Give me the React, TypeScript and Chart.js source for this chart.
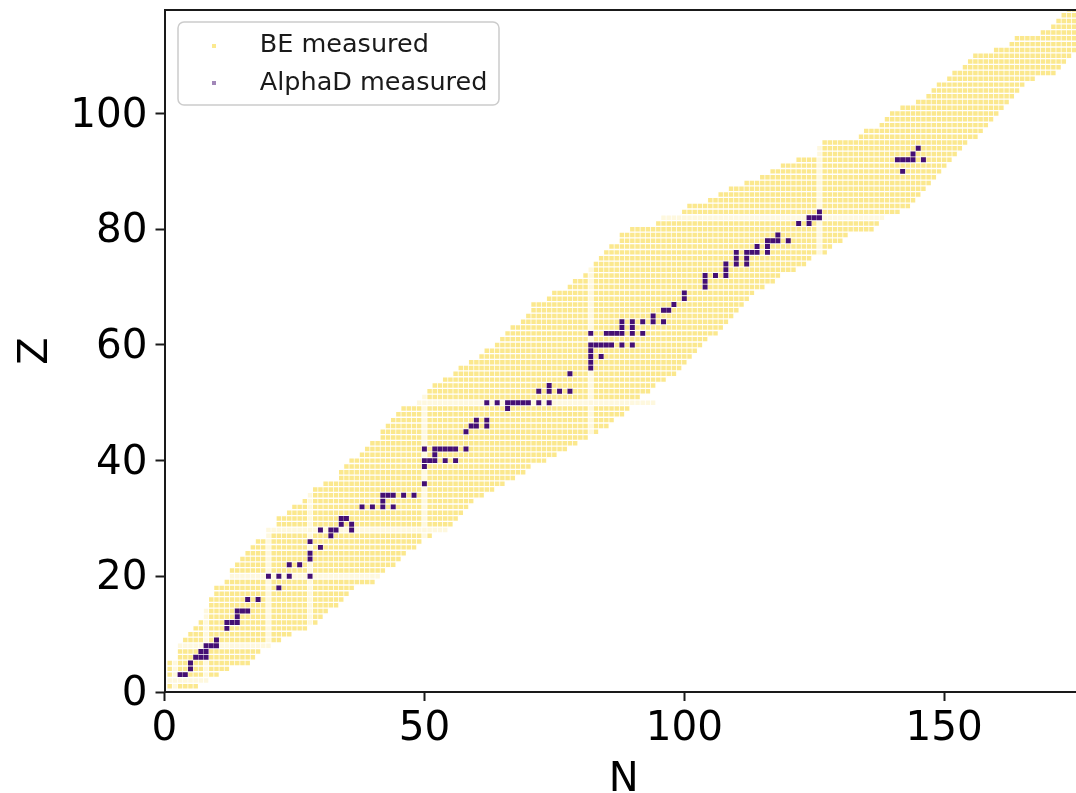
import React, { useEffect, useRef } from "react";
import { Chart, registerables } from "chart.js";

Chart.register(...registerables);

const rowZ = [1,2,3,4,5,6,7,8,9,10,11,12,13,14,15,16,17,18,19,20,21,22,23,24,25,26,27,28,29,30,31,32,33,34,35,36,37,38,39,40,41,42,43,44,45,46,47,48,49,50,51,52,53,54,55,56,57,58,59,60,61,62,63,64,65,66,67,68,69,70,71,72,73,74,75,76,77,78,79,80,81,82,83,84,85,86,87,88,89,90,91,92,93,94,95,96,97,98,99,100,101,102,103,104,105,106,107,108,109,110,111,112,113,114,115,116,117,118];
const rowStartN = [1,1,1,1,1,3,3,3,4,5,6,7,8,8,9,9,10,10,12,13,13,14,15,16,17,18,20,20,22,22,24,25,27,28,29,31,34,34,35,36,38,39,40,42,42,43,44,45,46,49,50,51,52,54,56,57,59,61,62,64,65,66,67,69,70,71,71,74,75,78,79,81,82,83,84,85,86,88,88,90,95,96,100,101,105,107,109,112,115,117,119,122,126,126,127,134,135,138,139,140,142,145,147,148,149,151,152,154,155,156,160,163,164,169,171,172,173,174];
const rowEndN = [6,8,10,12,16,17,18,20,22,24,27,29,30,31,33,34,35,36,40,41,42,44,45,46,48,49,51,54,55,56,57,58,59,61,63,65,67,69,70,73,75,77,79,81,83,85,86,88,89,94,91,93,94,96,98,99,100,101,102,103,104,106,107,108,109,110,111,112,113,115,117,118,121,123,124,127,128,130,131,136,137,138,141,143,144,145,146,147,148,149,150,151,152,153,154,156,157,158,159,160,161,162,163,164,165,167,171,172,173,174,175,175,178,178,178,178,178,178];
const paleN = [2, 8, 20, 28, 50, 82, 126];
const paleZ = [2, 8, 20, 28, 50, 82];

const alphaRowZ = [3,4,5,6,7,8,9,11,12,13,14,16,18,20,22,23,24,25,26,27,28,29,30,32,33,34,36,39,40,41,42,45,46,47,49,50,52,53,55,56,57,58,59,60,62,63,64,65,66,67,68,69,70,71,72,73,74,75,76,77,78,79,81,82,83,90,92,93,94];
const alphaRowN = [[3,4],[5],[5],[6,7,8],[7,8],[8,9,10],[10],[12],[12,13,14],[14],[14,15,16],[16,18],[22],[20,22,24,28],[24,26],[28],[28],[30],[28],[32],[30,32,33,36],[34,36],[34,35],[38,40,42,44],[42],[42,43,44,46,48],[50],[50],[50,51,52,54,56],[52],[50,52,53,54,55,56,58],[58],[59,60,62],[60,62],[66],[62,64,66,67,68,69,70,72,74],[72,74,76,78],[74],[78],[82],[82],[82,84],[82],[82,83,84,85,86,88,90],[82,85,86,87,88,90,92],[88,90],[88,90,92,94,96],[94],[96,97],[98],[100],[100],[104],[104],[104,106,108],[108],[108,110,112],[110,112],[110,112,113,114,116],[114,116],[116,117,118,120],[118],[122,124],[124,125,126],[126],[142],[141,142,143,144,146],[144],[145]];

const xMax = 176.7;
const yMax = 117.9;
const xTicks = [0, 50, 100, 150];
const yTicks = [0, 20, 40, 60, 80, 100];

const bePoints: { x: number; y: number }[] = [];
rowZ.forEach((z, i) => {
  for (let n = rowStartN[i]; n <= rowEndN[i]; n++) bePoints.push({ x: n, y: z });
});
const alphaPoints: { x: number; y: number }[] = [];
alphaRowZ.forEach((z, i) => alphaRowN[i].forEach((n) => alphaPoints.push({ x: n, y: z })));

const FONT = "'DejaVu Sans'";
const INK = "#1a1a1a";

function marker(color: string) {
  const c = document.createElement("canvas");
  c.width = 4;
  c.height = 4;
  const g = c.getContext("2d") as CanvasRenderingContext2D;
  g.fillStyle = color;
  g.fillRect(0, 0, 4, 4);
  return c;
}

const framePlugin = {
  id: "frame",
  afterLayout(chart: any) {
    const l = chart.legend;
    if (l) {
      const w = l.width;
      const h = l.height;
      l.left = 169;
      l.top = 21;
      l.right = 169 + w;
      l.bottom = 21 + h;
    }
  },
  beforeDraw(chart: any) {
    const c = chart.ctx;
    c.save();
    c.strokeStyle = "#cccccc";
    c.lineWidth = 1.5;
    c.beginPath();
    c.roundRect(178, 22, 321, 83, 6);
    c.stroke();
    c.restore();
  },
  afterDraw(chart: any) {
    const c = chart.ctx;
    const a = chart.chartArea;
    c.save();
    c.strokeStyle = INK;
    c.lineWidth = 2;
    c.beginPath();
    c.moveTo(a.left, a.top);
    c.lineTo(a.right, a.top);
    c.stroke();
    c.restore();
  },
};

export default function App() {
  const ref = useRef<HTMLCanvasElement | null>(null);
  useEffect(() => {
    const chart = new Chart(ref.current as HTMLCanvasElement, {
      type: "scatter",
      data: {
        datasets: [
          {
            label: "BE measured",
            data: bePoints,
            order: 2,
            pointStyle: "rect",
            pointRadius: 3.15,
            pointBorderWidth: 0,
            backgroundColor: "#fbe88e",
            pointBackgroundColor: (ctx: any) => {
              const p = ctx.raw;
              if (!p) return "#fbe88e";
              return paleN.includes(p.x) || paleZ.includes(p.y) ? "#fef8de" : "#fbe88e";
            },
          },
          {
            label: "AlphaD measured",
            data: alphaPoints,
            order: 1,
            pointStyle: "rect",
            pointRadius: 3.5,
            pointBorderWidth: 0,
            backgroundColor: "#440f74",
          },
        ],
      } as any,
      options: {
        animation: false,
        responsive: false,
        layout: { padding: { top: 10, left: 0, right: 0, bottom: 0 } },
        plugins: {
          tooltip: { enabled: false },
          legend: {
            position: "chartArea" as any,
            align: "start",
            labels: {
              usePointStyle: true,
              pointStyleWidth: 66,
              boxHeight: 4,
              padding: 12,
              color: INK,
              font: { family: FONT, size: 25.5 },
              sort: (a: any, b: any) => a.datasetIndex - b.datasetIndex,
              generateLabels: (ch: any) => {
                const items = (Chart.defaults.plugins.legend.labels as any).generateLabels(ch);
                items.forEach((it: any) => {
                  it.pointStyle = marker(it.datasetIndex === 0 ? "#fbe98f" : "#a187b8");
                });
                return items;
              },
            },
          },
        },
        scales: {
          x: {
            type: "linear",
            min: 0,
            max: xMax,
            afterFit: (s: any) => { s.height = 101; s.paddingLeft = 0; s.paddingRight = 0; },
            afterBuildTicks: (s: any) => { s.ticks = xTicks.map((value) => ({ value })); },
            border: { display: true, color: INK, width: 2 },
            grid: { display: true, drawOnChartArea: false, drawTicks: true, tickLength: 9, tickColor: INK, tickWidth: 2 },
            ticks: { color: "#000", padding: 4, maxRotation: 0, autoSkip: false, font: { family: FONT, size: 40.5 } },
            title: { display: true, text: "N", color: "#000", padding: { top: 0, bottom: -8 }, font: { family: FONT, size: 40, lineHeight: 1 } },
          },
          y: {
            type: "linear",
            min: 0,
            max: yMax,
            afterFit: (s: any) => { s.width = 164.5; s.paddingTop = 0; s.paddingBottom = 0; },
            afterBuildTicks: (s: any) => { s.ticks = yTicks.map((value) => ({ value })); },
            border: { display: true, color: INK, width: 2 },
            grid: { display: true, drawOnChartArea: false, drawTicks: true, tickLength: 9, tickColor: INK, tickWidth: 2 },
            ticks: { color: "#000", padding: 8, autoSkip: false, labelOffset: 2.5, font: { family: FONT, size: 40.5 } },
            title: { display: true, text: "Z", color: "#000", padding: { top: 17, bottom: 0 }, font: { family: FONT, size: 40, lineHeight: 1 } },
          },
        },
      },
      plugins: [framePlugin],
    } as any);
    return () => chart.destroy();
  }, []);
  return (
    <div style={{ position: "fixed", left: 0, top: 0, width: 1076, height: 793, background: "#fff", overflow: "hidden" }}>
      <canvas ref={ref} width={1087} height={793} style={{ display: "block" }} />
    </div>
  );
}
